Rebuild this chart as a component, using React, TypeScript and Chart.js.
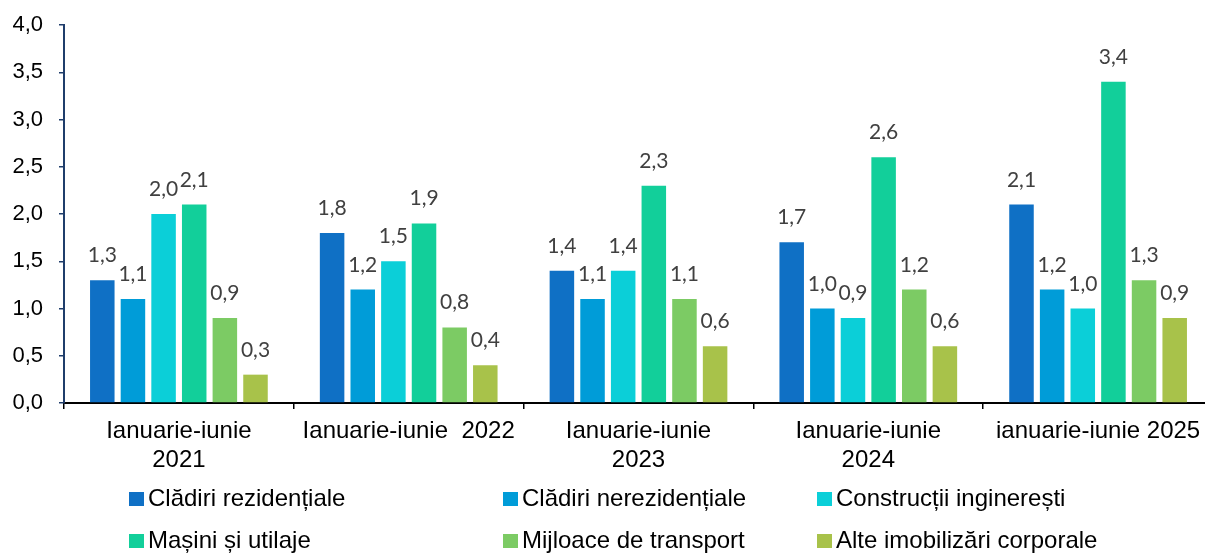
import React, { useEffect, useRef } from "react";
import { Chart, registerables } from "chart.js";

Chart.register(...registerables);

const categories: (string | string[])[] = [
  ["Ianuarie-iunie", "2021"],
  "Ianuarie-iunie  2022",
  ["Ianuarie-iunie", "2023"],
  ["Ianuarie-iunie", "2024"],
  "ianuarie-iunie 2025",
];

const seriesNames = [
  "Clădiri rezidențiale",
  "Clădiri nerezidențiale",
  "Construcții inginerești",
  "Mașini și utilaje",
  "Mijloace de transport",
  "Alte imobilizări corporale",
];

const cladiriRezidentiale = [1.3, 1.8, 1.4, 1.7, 2.1];
const cladiriNerezidentiale = [1.1, 1.2, 1.1, 1.0, 1.2];
const constructiiIngineresti = [2.0, 1.5, 1.4, 0.9, 1.0];
const masiniUtilaje = [2.1, 1.9, 2.3, 2.6, 3.4];
const mijloaceTransport = [0.9, 0.8, 1.1, 1.2, 1.3];
const alteImobilizari = [0.3, 0.4, 0.6, 0.6, 0.9];

const seriesColors = ["#0F70C5", "#009CD8", "#0BCFD8", "#12CF9A", "#7CCB64", "#A8C24A"];

const yTickValues = [0, 0.5, 1, 1.5, 2, 2.5, 3, 3.5, 4];

const fmt = (v: number) => v.toFixed(1).replace(".", ",");

const CANVAS_W = 1213;
const CANVAS_H = 554;

const dataLabelPlugin = {
  id: "dataLabels",
  afterDatasetsDraw(chart: any) {
    const ctx = chart.ctx;
    ctx.save();
    ctx.font = "21px Lato, 'Open Sans', sans-serif";
    ctx.fillStyle = "#404040";
    ctx.textAlign = "center";
    ctx.textBaseline = "alphabetic";
    chart.data.datasets.forEach((ds: any, i: number) => {
      const meta = chart.getDatasetMeta(i);
      meta.data.forEach((bar: any, j: number) => {
        ctx.fillText(fmt(ds.data[j]), bar.x, bar.y - 18);
      });
    });
    ctx.restore();
  },
};

const legendPlugin = {
  id: "customLegend",
  afterDraw(chart: any) {
    const ctx = chart.ctx;
    const colX = [129, 503, 817];
    const rowY = [499, 541];
    ctx.save();
    ctx.font = "24px Arial, 'Liberation Sans', sans-serif";
    ctx.textBaseline = "middle";
    ctx.textAlign = "left";
    chart.data.datasets.forEach((ds: any, i: number) => {
      const x = colX[i % 3];
      const y = rowY[Math.floor(i / 3)];
      ctx.fillStyle = ds.backgroundColor;
      ctx.fillRect(x, y - 7, 15, 14);
      ctx.fillStyle = "#000000";
      ctx.fillText(ds.label, x + 19, y);
    });
    ctx.restore();
  },
};

export default function App() {
  const ref = useRef<HTMLCanvasElement | null>(null);
  useEffect(() => {
    if (!ref.current) return;
    const allSeries = [
      cladiriRezidentiale,
      cladiriNerezidentiale,
      constructiiIngineresti,
      masiniUtilaje,
      mijloaceTransport,
      alteImobilizari,
    ];
    const chart = new Chart(ref.current, {
      type: "bar",
      data: {
        labels: categories,
        datasets: allSeries.map((d, i) => ({
          label: seriesNames[i],
          data: d,
          backgroundColor: seriesColors[i],
          borderWidth: 0,
          categoryPercentage: 0.8,
          barPercentage: 0.8,
        })),
      },
      options: {
        animation: false,
        responsive: false,
        maintainAspectRatio: false,
        layout: { padding: { top: 25, left: 0, right: 0, bottom: 0 } },
        plugins: {
          legend: { display: false },
          tooltip: { enabled: false },
        },
        scales: {
          x: {
            grid: {
              display: true,
              offset: true,
              drawOnChartArea: false,
              drawTicks: true,
              tickLength: 6,
              color: "#000000",
              lineWidth: 1.5,
            },
            border: { display: true, color: "#000000", width: 2 },
            ticks: {
              color: "#000000",
              font: { family: "Arial, 'Liberation Sans', sans-serif", size: 24 },
              padding: 8,
              maxRotation: 0,
              autoSkip: false,
            },
            afterFit: (scale: any) => {
              scale.height = 151;
            },
          },
          y: {
            min: 0,
            max: 4,
            afterBuildTicks: (scale: any) => {
              scale.ticks = yTickValues.map((v) => ({ value: v }));
            },
            grid: {
              display: true,
              drawOnChartArea: false,
              drawTicks: true,
              tickLength: 5,
              color: "#1F3D6B",
              lineWidth: 1.5,
            },
            border: { display: true, color: "#1F3D6B", width: 2 },
            ticks: {
              color: "#000000",
              font: { family: "Arial, 'Liberation Sans', sans-serif", size: 22 },
              padding: 16,
              callback: (v: any) => fmt(Number(v)),
            },
            afterFit: (scale: any) => {
              scale.width = 64;
              scale.paddingTop = 0;
            },
          },
        },
      },
      plugins: [dataLabelPlugin, legendPlugin],
    });
    return () => chart.destroy();
  }, []);
  return (
    <div
      style={{
        position: "fixed",
        left: 0,
        top: 0,
        width: 1205,
        height: CANVAS_H,
        overflow: "hidden",
        background: "#ffffff",
      }}
    >
      <canvas
        ref={ref}
        width={CANVAS_W}
        height={CANVAS_H}
        style={{ width: CANVAS_W, height: CANVAS_H, display: "block" }}
      />
    </div>
  );
}
